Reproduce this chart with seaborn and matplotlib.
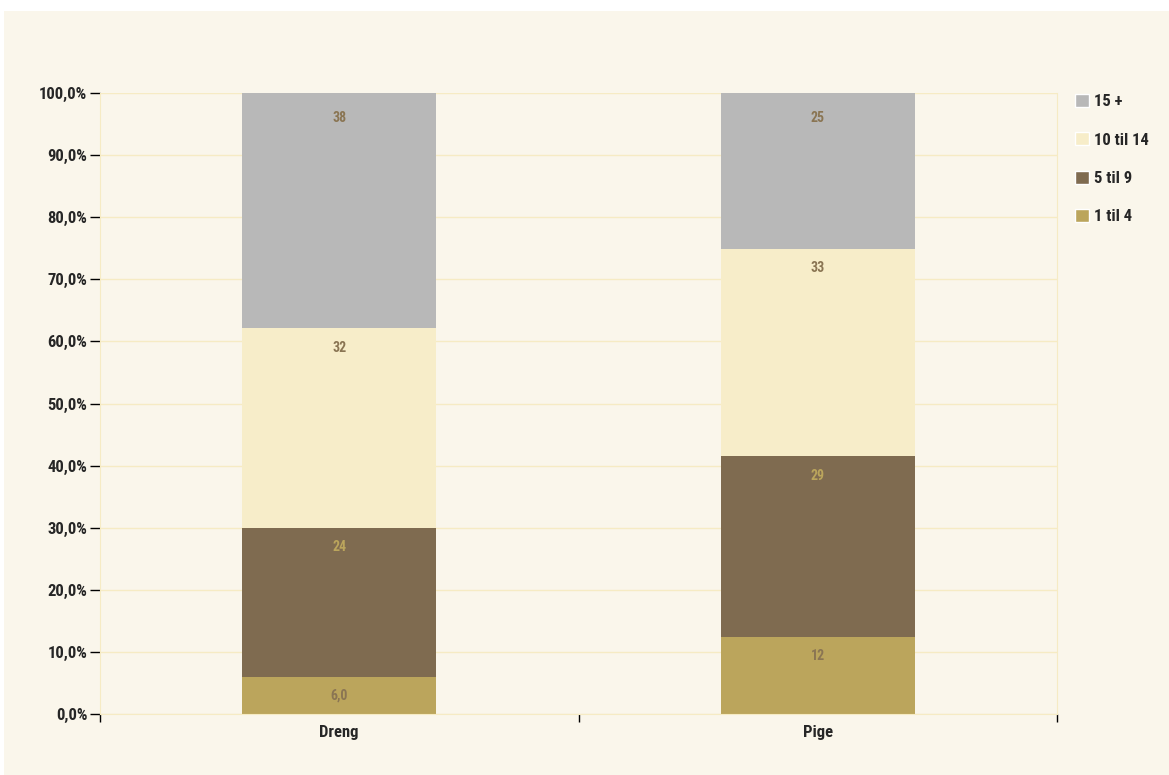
import numpy as np
import pandas as pd
import matplotlib.pyplot as plt
import matplotlib.ticker as mticker
from matplotlib.patches import Rectangle
import seaborn as sns

# data (percent of each group)
groups = ["Dreng", "Pige"]
segments = ["1 til 4", "5 til 9", "10 til 14", "15 +"]
values = {
    "1 til 4": [6.0, 12.4],
    "5 til 9": [24.0, 29.1],
    "10 til 14": [32.1, 33.4],
    "15 +": [37.9, 25.1],
}
colors = {
    "1 til 4": "#bba55c",
    "5 til 9": "#7f6b50",
    "10 til 14": "#f7edc9",
    "15 +": "#b8b8b8",
}
label_colors = {
    "1 til 4": "#8a7553",
    "5 til 9": "#bba55c",
    "10 til 14": "#8a7553",
    "15 +": "#8a7553",
}

bg = "#faf6eb"
grid = "#f6ebc4"

sns.set_style("white")
plt.rcParams["font.family"] = ["Roboto Condensed", "DejaVu Sans"]
plt.rcParams["font.weight"] = "bold"

df = pd.DataFrame(values, index=groups)
cum = df[segments].cumsum(axis=1)

fig = plt.figure(figsize=(11.69, 7.75), dpi=100, facecolor="white")
fig.patches.append(Rectangle((4 / 1169, 0), 1, 1 - 11 / 775, transform=fig.transFigure,
                             facecolor=bg, edgecolor="none", zorder=-1))
ax = fig.add_axes([100 / 1169, 1 - 714 / 775, 957 / 1169, 621 / 775])
ax.set_facecolor(bg)

# draw cumulative totals from the top segment down so the stack shows
for seg in reversed(segments):
    d = pd.DataFrame({"group": groups, "total": cum[seg].values})
    sns.barplot(data=d, x="group", y="total", color=colors[seg], width=0.405,
                saturation=1, ax=ax, zorder=2, linewidth=0)

for i, g in enumerate(groups):
    bottom = 0
    for seg in segments:
        v = df.loc[g, seg]
        txt = f"{v:.1f}".replace(".", ",") if v < 10 else f"{v:.0f}"
        off = 4.0 if seg == segments[-1] else 3.1
        ax.text(i, bottom + v - off, txt, ha="center", va="center",
                fontsize=10, fontweight="bold", color=label_colors[seg], zorder=3)
        bottom += v

ax.set_xlim(-0.5, 1.5)
ax.set_ylim(0, 100)
ax.set_yticks(np.arange(0, 101, 10))
ax.yaxis.set_major_formatter(mticker.FuncFormatter(lambda v, p: f"{v:.1f}%".replace(".", ",")))
ax.set_xticks([0, 1])
ax.set_xticklabels(groups)
ax.set_xticks([-0.5, 0.5, 1.5], minor=True)
ax.tick_params(axis="x", which="major", length=0, pad=8, labelsize=12)
ax.tick_params(axis="x", which="minor", length=6, direction="out", color="black",
               width=1, bottom=True)
ax.tick_params(axis="y", length=7, width=1, color="black", labelsize=12, pad=2, left=True)
ax.set_xlabel("")
ax.set_ylabel("")
ax.grid(axis="y", color=grid, linewidth=1, zorder=0)
ax.set_axisbelow(True)
for s in ["left", "right", "bottom"]:
    ax.spines[s].set_visible(True)
    ax.spines[s].set_color(grid)
ax.spines["top"].set_visible(False)

handles = [Rectangle((0, 0), 1, 1, facecolor=colors[s]) for s in reversed(segments)]
leg = ax.legend(handles, list(reversed(segments)), loc="upper left",
                bbox_to_anchor=(1.003, 1.023), frameon=False, fontsize=12,
                handlelength=0.85, handleheight=0.85, labelspacing=1.38, handletextpad=0.3)

fig.savefig("out.png", dpi=100, facecolor=fig.get_facecolor())
